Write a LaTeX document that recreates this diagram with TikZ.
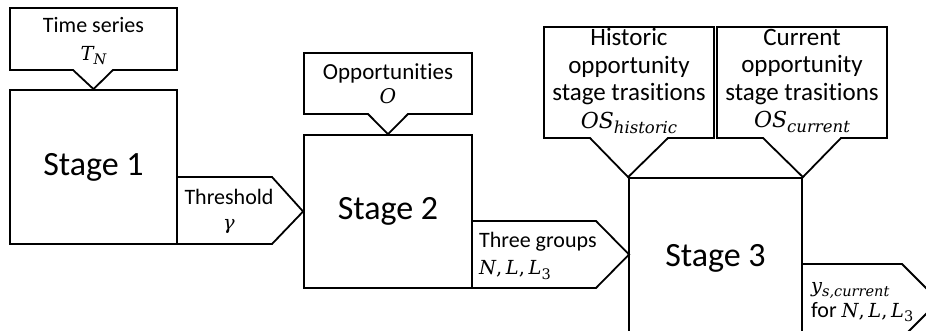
\documentclass[tikz,border=0pt]{standalone}
\usepackage{fontspec}
\setmainfont{Carlito}[Ligatures=NoCommon]
\newfontfamily\varfont{DejaVu Serif}[Scale=0.88]
% italic variables and their subscripts, set in a serif text face
\newcommand\var[1]{{\varfont\itshape #1}}
\newcommand\isub[1]{\raisebox{-0.2em}{\scalebox{0.75}{\var{#1}}}}
\newcommand\nsub[1]{\raisebox{-0.2em}{\scalebox{0.75}{\varfont #1}}}
\newcommand\comma{{\varfont ,}\,}
\begin{document}
\begin{tikzpicture}[x=1pt,y=-1pt,
  outline/.style={draw=black, line width=1.8pt, line join=miter},
  stagebox/.style={outline, rectangle, inner sep=0pt, font=\fontsize{34}{40}\selectfont},
  smalltext/.style={inner sep=0pt, align=center, font=\fontsize{22}{27}\selectfont},
  bigtext/.style={inner sep=0pt, align=center, font=\fontsize{25}{27.5}\selectfont},
  lefttext/.style={inner sep=0pt, align=left, font=\fontsize{22}{27}\selectfont}
]
\useasboundingbox (0,0) rectangle (926,331);
\clip (0,0) rectangle (926,331);

% the three stages
\node[stagebox, minimum width=167pt, minimum height=154pt] (s1) at (93.5,167) {Stage 1};
\node[stagebox, minimum width=168pt, minimum height=153pt] (s2) at (388,211.5) {Stage 2};
\node[stagebox, minimum width=173pt, minimum height=160pt] (s3) at (715.5,258) {Stage 3};

% inputs from above (callouts pointing at the stages)
\draw[outline] (10,8) -- (177,8) -- (177,70) -- (113,70) -- (s1.north) -- (73,70) -- (10,70) -- cycle;
\draw[outline] (304,53) -- (472,53) -- (472,114) -- (408,114) -- (s2.north) -- (368,114) -- (304,114) -- cycle;
\draw[outline] (544,27) -- (714,27) -- (714,138) -- (668,138) -- (s3.north west) -- (590,138) -- (544,138) -- cycle;
\draw[outline] (717,27) -- (887,27) -- (887,138) -- (841,138) -- (s3.north east) -- (763,138) -- (717,138) -- cycle;

% outputs passed to the right
\coordinate (p2) at (629,254.5);
\coordinate (p3) at (939,301);
\draw[outline] (177,177) -- (272,177) -- (s2.west) -- (272,244) -- (177,244);
\draw[outline] (472,221) -- (596,221) -- (p2) -- (596,288) -- (472,288);
\draw[outline] (802,264) -- (902,264) -- (p3) -- (902,338) -- (802,338);

% labels
\node[smalltext] (lt) at (93.5,41) {Time series\\[1pt]\var{T}\isub{N}};
\node[smalltext, font=\fontsize{23}{27}\selectfont] (lo) at (388,84) {Opportunities\\[-3pt]\var{O}};
\node[smalltext] (lg) at (229,211) {Threshold\\[-2pt]\var{γ}};
\node[bigtext] (lh) at (629,81) {Historic\\opportunity\\stage trasitions\\\var{OS}\isub{historic}};
\node[bigtext] (lc) at (802,81) {Current\\opportunity\\stage trasitions\\\var{OS}\isub{current}};
\node[lefttext, anchor=west] (lm) at (479,256) {Three groups\\\var{N}\comma\var{L}\comma\var{L}\nsub{3}};
\node[lefttext, anchor=west] (ly) at (811,302) {\var{y}\isub{s,current}\\[-2pt]for \var{N}\comma\var{L}\comma\var{L}\nsub{3}};
\end{tikzpicture}
\end{document}
